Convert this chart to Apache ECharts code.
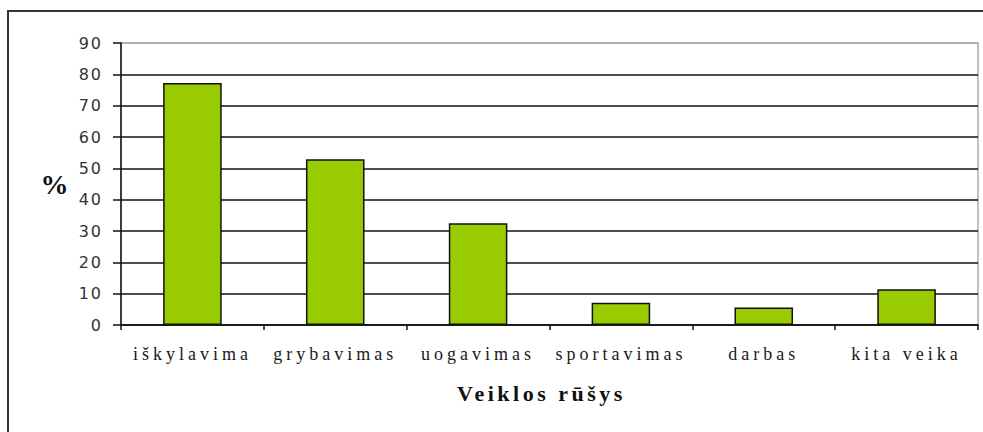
<!DOCTYPE html>
<html>
<head>
<meta charset="utf-8">
<script src="https://cdn.jsdelivr.net/npm/echarts@6/dist/echarts.min.js"></script>
<style>
html,body{margin:0;padding:0;background:#fff;}
#chart{width:983px;height:432px;}
#chart text[style*="Serif"]{letter-spacing:4px;}
#chart text[style*="Serif"][style*="bold"]{letter-spacing:3.5px;}
#chart text[style*="DejaVu Sans"]{letter-spacing:2px;}
</style>
</head>
<body>
<div id="chart"></div>
<script>
var categories = ['iškylavima', 'grybavimas', 'uogavimas', 'sportavimas', 'darbas', 'kita veika'];
var values = [77.2, 52.9, 32.5, 7.1, 5.6, 11.4];
var yTicks = [0, 10, 20, 30, 40, 50, 60, 70, 80, 90];

var chart = echarts.init(document.getElementById('chart'), null, {renderer: 'svg'});
var serif = 'Liberation Serif';
chart.setOption({
  backgroundColor: '#fff',
  animation: false,
  graphic: [{
    type: 'rect', silent: true,
    shape: {x: 8, y: 11, width: 990, height: 440},
    style: {fill: 'none', stroke: '#333', lineWidth: 2}
  }],
  grid: {left: 121, right: 5, top: 43, bottom: 107, show: true, borderColor: '#aaa', borderWidth: 1.5, backgroundColor: 'transparent'},
  xAxis: {
    type: 'category',
    data: categories,
    name: 'Veiklos rūšys',
    nameLocation: 'middle',
    nameGap: 57,
    nameTextStyle: {fontFamily: serif, fontWeight: 'bold', fontSize: 22, color: '#111', padding: [0, 16, 0, 0]},
    axisLine: {show: true, lineStyle: {color: '#111', width: 1.5}},
    axisTick: {show: true, length: 5, lineStyle: {color: '#111', width: 1.5}},
    axisLabel: {fontFamily: serif, fontSize: 18, color: '#1a1a1a', margin: 20},
    splitLine: {show: false}
  },
  yAxis: {
    type: 'value',
    min: 0, max: 90, interval: 10,
    name: '%',
    nameLocation: 'middle',
    nameRotate: 0,
    nameGap: 49,
    nameTextStyle: {fontFamily: serif, fontWeight: 'bold', fontSize: 28, color: '#111'},
    axisLine: {show: true, lineStyle: {color: '#111', width: 1.5}},
    axisTick: {show: true, length: 8, lineStyle: {color: '#111', width: 1.5}},
    axisLabel: {
      fontFamily: 'DejaVu Sans', fontSize: 16, color: '#333', margin: 18,
      formatter: function (v) { return yTicks.indexOf(v) >= 0 ? String(v) : ''; }
    },
    splitLine: {show: true, lineStyle: {color: ['#111','#111','#111','#111','#111','#111','#111','#111','#111','#aaa'], width: 1.5}}
  },
  series: [{
    type: 'bar',
    data: values,
    barWidth: '41%',
    itemStyle: {color: '#99cc00', borderColor: '#111', borderWidth: 1.5}
  }]
});
</script>
</body>
</html>
